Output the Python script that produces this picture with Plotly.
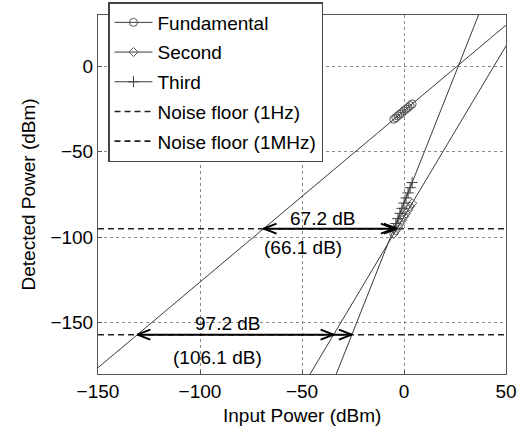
import numpy as np
import plotly.graph_objects as go

# Measured detected power (dBm) of each product versus input power (dBm)
input_fund = [-5, -4, -3, -2, -1, 0, 1, 2, 3, 4]
power_fund = [-31.0, -30.1, -29.0, -28.0, -27.1, -26.0, -25.0, -24.1, -23.0, -22.0]
input_second = [-5, -4, -3, -2, -1, 0, 1, 2, 3, 4]
power_second = [-98.0, -96.1, -94.0, -92.1, -90.0, -88.0, -86.1, -84.0, -82.0, -80.1]
input_third = [-5, -4, -3, -2, -1, 0, 1, 2, 3, 4]
power_third = [-95.2, -92.0, -89.1, -86.0, -83.1, -80.0, -77.0, -74.1, -71.0, -68.0]

# Noise floors (dBm)
noise_1hz = -157.0
noise_1mhz = -95.0

# Dynamic-range labels
dr_labels_1mhz = ["67.2 dB", "(66.1 dB)"]
dr_labels_1hz = ["97.2 dB", "(106.1 dB)"]
dr_label_pos_1mhz = [(-39.7, -88.8), (-49.5, -105.9)]
dr_label_pos_1hz = [(-86.3, -150.6), (-91.2, -170.6)]

x_ticks = [-150, -100, -50, 0, 50]
y_ticks = [-150, -100, -50, 0]
x_range = [-150, 50]
y_range = [-180, 30]

FONT = "Liberation Sans, Arial, sans-serif"
LINE_GREY = "#3a3a3a"

# Linear fits of each product, extended across the whole axis
fit_f = np.polyfit(input_fund, power_fund, 1)
fit_2 = np.polyfit(input_second, power_second, 1)
fit_3 = np.polyfit(input_third, power_third, 1)
x_full = np.array(x_range, dtype=float)

fig = go.Figure()

for fit in (fit_f, fit_2, fit_3):
    fig.add_trace(go.Scatter(x=x_full, y=np.polyval(fit, x_full), mode="lines",
                             line=dict(color=LINE_GREY, width=1), showlegend=False,
                             hoverinfo="skip"))

# noise floors (dashed, full width)
fig.add_trace(go.Scatter(x=x_full, y=[noise_1hz, noise_1hz], mode="lines",
                         name="Noise floor (1Hz)", legendgroup="n1",
                         line=dict(color="#222", width=1.6, dash="6px,4px")))
fig.add_trace(go.Scatter(x=x_full, y=[noise_1mhz, noise_1mhz], mode="lines",
                         name="Noise floor (1MHz)", legendgroup="n2",
                         line=dict(color="#222", width=1.6, dash="6px,4px")))

# measured points
fig.add_trace(go.Scatter(x=input_fund, y=power_fund, mode="lines+markers", name="Fundamental",
                         legendgroup="f", line=dict(color=LINE_GREY, width=1),
                         marker=dict(symbol="circle-open", size=8, color="#555",
                                     line=dict(width=1))))
fig.add_trace(go.Scatter(x=input_second, y=power_second, mode="lines+markers", name="Second",
                         legendgroup="s", line=dict(color=LINE_GREY, width=1),
                         marker=dict(symbol="diamond-open", size=7, color="#555",
                                     line=dict(width=1))))
fig.add_trace(go.Scatter(x=input_third, y=power_third, mode="lines+markers", name="Third",
                         legendgroup="t", line=dict(color=LINE_GREY, width=1),
                         marker=dict(symbol="cross-thin", size=8, color="#444",
                                     line=dict(width=1, color="#444"))))

# arrows between the fundamental and the distortion products at each noise floor
plot_w, plot_h = 408, 359
sx = plot_w / (x_range[1] - x_range[0])
sy = plot_h / (y_range[1] - y_range[0])
head_len, head_half = 13, 5


def crossing(fit, level):
    return (level - fit[1]) / fit[0]


def add_arrow(level, x_left, x_rights):
    xs = [x_left, max(x_rights)]
    ys = [level, level]
    heads = [(x_left, -1)] + [(xr, 1) for xr in x_rights]
    for xt, d in heads:
        xb = xt - d * head_len / sx
        xs += [None, xb, xt, xb]
        ys += [None, level + head_half / sy, level, level - head_half / sy]
    fig.add_trace(go.Scatter(x=xs, y=ys, mode="lines", line=dict(color="black", width=2),
                             showlegend=False, hoverinfo="skip"))


add_arrow(noise_1mhz, crossing(fit_f, noise_1mhz),
          [crossing(fit_3, noise_1mhz), crossing(fit_2, noise_1mhz)])
add_arrow(noise_1hz, crossing(fit_f, noise_1hz),
          [crossing(fit_2, noise_1hz), crossing(fit_3, noise_1hz)])

for txt, (lx, ly) in zip(dr_labels_1mhz + dr_labels_1hz, dr_label_pos_1mhz + dr_label_pos_1hz):
    fig.add_annotation(x=lx, y=ly, text=txt, showarrow=False,
                       font=dict(family=FONT, size=19, color="black"),
                       xanchor="center", yanchor="middle")

# axis titles
fig.add_annotation(x=0.5, y=0, xref="paper", yref="paper", yshift=-41,
                   text="Input Power (dBm)", showarrow=False,
                   xanchor="center", yanchor="middle",
                   font=dict(family=FONT, size=19, color="black"))
fig.add_annotation(x=0, y=0.5, xref="paper", yref="paper", xshift=-70, textangle=-90,
                   text="Detected Power (dBm)", showarrow=False,
                   xanchor="center", yanchor="middle",
                   font=dict(family=FONT, size=19, color="black"))

axis_common = dict(showline=True, mirror=True, linecolor="#555", linewidth=1,
                   ticks="inside", ticklen=4, tickcolor="#555", automargin=False,
                   showgrid=True, gridcolor="#8a8a8a", griddash="dot", gridwidth=1,
                   zeroline=False, tickfont=dict(family=FONT, size=19, color="black"))

fig.update_layout(
    width=522, height=436,
    margin=dict(l=98, r=16, t=15, b=62, autoexpand=False),
    paper_bgcolor="white", plot_bgcolor="white",
    font=dict(family=FONT, size=19, color="black"),
    xaxis=dict(range=x_range, tickvals=x_ticks, **axis_common),
    yaxis=dict(range=y_range, tickvals=y_ticks, **axis_common),
    legend=dict(x=10 / 408, y=1 - 2 / 436, xref="paper", yref="container",
                xanchor="left", yanchor="top",
                bgcolor="white", bordercolor="#444", borderwidth=1.5,
                font=dict(family=FONT, size=19, color="black"),
                traceorder="grouped", tracegroupgap=2, itemwidth=38),
    showlegend=True,
)

# legend order: Fundamental, Second, Third, Noise floor (1Hz), Noise floor (1MHz)
order = {"Fundamental": 1, "Second": 2, "Third": 3, "Noise floor (1Hz)": 4, "Noise floor (1MHz)": 5}
for tr in fig.data:
    if tr.name in order:
        tr.legendrank = order[tr.name]

fig.write_html("out.html")
